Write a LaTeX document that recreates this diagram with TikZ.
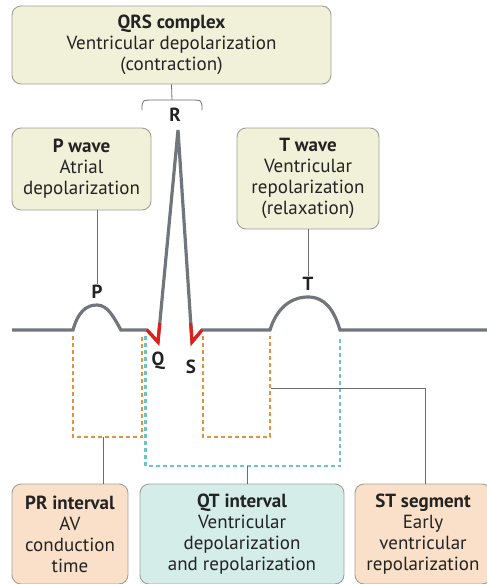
\documentclass[tikz,border=0pt]{standalone}
\usepackage{fontspec}
\setmainfont{PT Sans}
\definecolor{boxyellow}{RGB}{241,240,216}
\definecolor{boxpeach}{RGB}{250,224,200}
\definecolor{boxteal}{RGB}{212,237,233}
\definecolor{boxedge}{RGB}{160,160,150}
\definecolor{trace}{RGB}{112,118,124}
\definecolor{spike}{RGB}{225,30,25}
\definecolor{dashorange}{RGB}{232,145,60}
\definecolor{dashteal}{RGB}{110,195,195}
\definecolor{txt}{RGB}{35,35,35}

\begin{document}
\begin{tikzpicture}[x=1pt,y=-1pt,
  infobox/.style={draw=boxedge, line width=0.9pt, rounded corners=9pt, align=center,
    inner sep=0pt, text=txt, font=\fontsize{19}{21}\selectfont},
  wavebox/.style={infobox, fill=boxyellow},
  segbox/.style={infobox, fill=boxpeach},
  qtbox/.style={infobox, fill=boxteal},
  wavelbl/.style={font=\fontsize{19}{19}\selectfont\bfseries, text=txt, inner sep=1pt},
  conn/.style={draw=gray!85!black, line width=0.8pt},
  ecg/.style={draw=trace, line width=3.2pt, line join=miter},
  prdash/.style={draw=dashorange, line width=2.4pt, dash pattern=on 4pt off 3pt},
  qtdash/.style={draw=dashteal, line width=2.4pt, dash pattern=on 4pt off 3pt}]
\useasboundingbox (0,0) rectangle (487,584);

\node[wavebox, minimum width=319, minimum height=78] (qrs) at (171.5,45)
  {\textbf{QRS complex}\\Ventricular depolarization\\(contraction)};
\node[wavebox, minimum width=139, minimum height=82] (pwave) at (81.5,169)
  {\textbf{P wave}\\Atrial\\depolarization};
\node[wavebox, minimum width=142, minimum height=101] (twave) at (308,178.5)
  {\textbf{T wave}\\Ventricular\\repolarization\\(relaxation)};
\node[segbox, minimum width=116, minimum height=100] (pr) at (70,534)
  {\textbf{PR interval}\\AV\\conduction\\time};
\node[qtbox, minimum width=204, minimum height=100] (qt) at (242,534)
  {\textbf{QT interval}\\Ventricular\\depolarization\\and repolarization};
\node[segbox, minimum width=136, minimum height=100] (st) at (423,534)
  {\textbf{ST segment}\\Early\\ventricular\\repolarization};

\node[wavelbl] (R) at (175,115) {R};
\node[wavelbl] (P) at (97,292) {P};
\node[wavelbl] (T) at (308,284) {T};
\node[wavelbl] (Q) at (158,361) {Q};
\node[wavelbl] (S) at (191,367) {S};

\draw[ecg] (12,330) -- (73,330) .. controls (78,312) and (86,305) .. (97,305)
  .. controls (108,305) and (114,318) .. (121,330) -- (147,330) -- (158,342)
  -- (178,130) -- (192,342) -- (202,330) -- (270,330)
  .. controls (277,307) and (292,297) .. (308,297)
  .. controls (325,297) and (334,310) .. (340,330) -- (487,330);
\draw[draw=spike, line width=3.2pt, line join=miter] (147,330) -- (158,342) -- (159.8,323);
\draw[draw=spike, line width=3.2pt, line join=miter] (190.7,323) -- (192,342) -- (202,330);

\draw[prdash] (73,336) -- (73,437) -- (142,437) -- (142,336);
\draw[prdash] (203,336) -- (203,437) -- (270,437) -- (270,336);
\draw[qtdash] (145.5,336) -- (145.5,466) -- (340,466) -- (340,336);

\coordinate (brL) at (142,110);
\coordinate (brR) at (202,110);
\coordinate (brtop) at (172,100);
\draw[conn] (brL) .. controls (142,100) .. (154,100) -- (190,100) .. controls (202,100) .. (brR);
\draw[conn] (qrs.south) -- (brtop);
\draw[conn] (P.north) -- (P.north |- pwave.south);
\draw[conn] (T.north) -- (T.north |- twave.south);

\coordinate (prmid) at (103,437);
\coordinate (qtmid) at (247,466);
\coordinate (stmid) at (271,388);
\draw[conn] (prmid) -- (prmid |- pr.north);
\draw[conn] (qtmid) -- (qtmid |- qt.north);
\draw[conn] (stmid) -- (425,388) -- (425,484);
\end{tikzpicture}
\end{document}
